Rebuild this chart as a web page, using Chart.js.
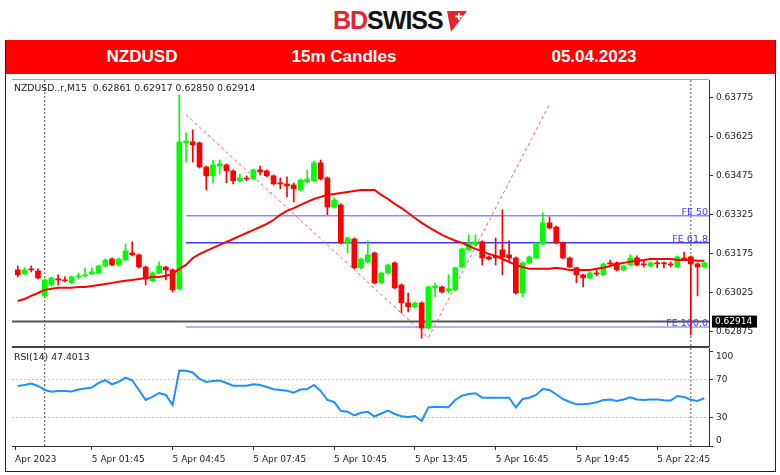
<!DOCTYPE html>
<html lang="en">
<head>
  <meta charset="UTF-8">
  <title>NZDUSD 15m Candles</title>
  <script src="https://cdn.jsdelivr.net/npm/chart.js"></script>
  <style>
    body { margin: 0; width: 780px; height: 475px; background: #fff; position: relative; overflow: hidden; font-family: "Liberation Sans", Arial, sans-serif; }
    .logo { position: absolute; left: 333px; top: 5px; height: 30px; font-size: 25px; font-weight: bold; letter-spacing: -1px; line-height: 30px; white-space: nowrap; }
    .logo .bd { color: #e3262d; }
    .logo .sw { color: #111; }
    .logo svg { position: absolute; left: 113px; top: 4px; }
    .frame { position: absolute; left: 5px; top: 40px; width: 769px; height: 430px; border: 1px solid #222; }
    .bar { position: absolute; left: 6px; top: 40px; width: 769px; height: 34px; background: #ff0000; }
    .bar span { position: absolute; top: 0; line-height: 34px; color: #fff; font-weight: bold; font-size: 17px; transform: translateX(-50%); white-space: nowrap; }
    canvas { position: absolute; left: 0; }
    #mainChart { top: 74px; }
    #rsiChart { top: 348px; }
    .note { position: absolute; left: 14px; font-family: "DejaVu Sans", sans-serif; font-size: 9.3px; color: #222; white-space: pre; }
  </style>
</head>
<body>
  <div class="frame"></div>
  <div class="logo"><span class="bd">BD</span><span class="sw">SWISS</span>
    <svg width="22" height="24" viewBox="0 0 22 24">
      <polygon points="1,2 21,2 5,23" fill="#e3262d"/>
      <rect x="12" y="4" width="2" height="7" fill="#fff"/>
      <rect x="9.5" y="6.5" width="7" height="2" fill="#fff"/>
    </svg>
  </div>
  <div class="bar">
    <span style="left:136px">NZDUSD</span>
    <span style="left:338px">15m Candles</span>
    <span style="left:588px">05.04.2023</span>
  </div>

  <canvas id="mainChart" width="780" height="274"></canvas>
  <canvas id="rsiChart" width="780" height="127"></canvas>

  <div class="note" style="top:82px">NZDUSD..r,M15  0.62861 0.62917 0.62850 0.62914</div>
  <div class="note" style="top:351px">RSI(14) 47.4013</div>

  <script>
    // bar 0 = 5 Apr 00:00, one bar per 15 minutes; the first bar shown is 4 Apr 23:00
    const firstBar = -4;

    const opens = [0.63113, 0.63097, 0.63117, 0.63109,
      0.63013, 0.63055, 0.63078, 0.63074, 0.63063, 0.63086, 0.63090, 0.63097, 0.63101, 0.63128,
      0.63155, 0.63132, 0.63151, 0.63178, 0.63171, 0.63124, 0.63071, 0.63101, 0.63124, 0.63113,
      0.63040, 0.63602, 0.63606, 0.63602, 0.63509, 0.63475, 0.63513, 0.63517, 0.63494, 0.63456,
      0.63467, 0.63463, 0.63498, 0.63494, 0.63475, 0.63448, 0.63444, 0.63440, 0.63421, 0.63452,
      0.63456, 0.63525, 0.63467, 0.63355, 0.63363, 0.63217, 0.63232, 0.63121, 0.63144, 0.63178,
      0.63063, 0.63101, 0.63140, 0.63055, 0.62986, 0.62971, 0.62986, 0.62889, 0.63044, 0.63047,
      0.63032, 0.63036, 0.63124, 0.63190, 0.63209, 0.63221, 0.63163, 0.63167, 0.63190, 0.63171,
      0.63159, 0.63024, 0.63140, 0.63159, 0.63213, 0.63294, 0.63278, 0.63217, 0.63159, 0.63121,
      0.63094, 0.63082, 0.63101, 0.63094, 0.63140, 0.63140, 0.63113, 0.63132, 0.63159, 0.63136,
      0.63128, 0.63140, 0.63140, 0.63136, 0.63124, 0.63159, 0.63163, 0.63136, 0.63124];

    const highs = [0.63128, 0.63121, 0.63128, 0.63117,
      0.63078, 0.63086, 0.63094, 0.63086, 0.63090, 0.63101, 0.63121, 0.63121, 0.63132, 0.63155,
      0.63159, 0.63159, 0.63213, 0.63221, 0.63174, 0.63128, 0.63105, 0.63144, 0.63128, 0.63117,
      0.63787, 0.63640, 0.63652, 0.63606, 0.63513, 0.63536, 0.63536, 0.63521, 0.63498, 0.63482,
      0.63475, 0.63502, 0.63513, 0.63498, 0.63479, 0.63467, 0.63471, 0.63448, 0.63463, 0.63498,
      0.63532, 0.63536, 0.63471, 0.63390, 0.63367, 0.63240, 0.63236, 0.63159, 0.63225, 0.63182,
      0.63105, 0.63136, 0.63144, 0.63059, 0.63024, 0.62990, 0.62990, 0.63051, 0.63063, 0.63051,
      0.63094, 0.63124, 0.63198, 0.63248, 0.63248, 0.63225, 0.63167, 0.63236, 0.63344, 0.63225,
      0.63163, 0.63144, 0.63167, 0.63217, 0.63333, 0.63317, 0.63282, 0.63221, 0.63163, 0.63124,
      0.63097, 0.63105, 0.63113, 0.63140, 0.63151, 0.63144, 0.63132, 0.63171, 0.63167, 0.63151,
      0.63144, 0.63148, 0.63144, 0.63144, 0.63167, 0.63182, 0.63167, 0.63140, 0.63144];

    const lows = [0.63086, 0.63094, 0.63105, 0.63078,
      0.63005, 0.63051, 0.63055, 0.63067, 0.63059, 0.63078, 0.63086, 0.63094, 0.63097, 0.63124,
      0.63128, 0.63128, 0.63148, 0.63167, 0.63121, 0.63055, 0.63067, 0.63097, 0.63074, 0.63028,
      0.63036, 0.63528, 0.63528, 0.63505, 0.63421, 0.63448, 0.63482, 0.63448, 0.63444, 0.63452,
      0.63456, 0.63459, 0.63479, 0.63471, 0.63440, 0.63425, 0.63394, 0.63375, 0.63417, 0.63448,
      0.63452, 0.63459, 0.63325, 0.63351, 0.63213, 0.63178, 0.63117, 0.63117, 0.63140, 0.63059,
      0.63059, 0.63097, 0.63040, 0.62947, 0.62951, 0.62967, 0.62850, 0.62885, 0.63009, 0.63024,
      0.63024, 0.63032, 0.63121, 0.63186, 0.63205, 0.63132, 0.63151, 0.63132, 0.63094, 0.63140,
      0.63020, 0.63009, 0.63136, 0.63155, 0.63209, 0.63271, 0.63213, 0.63155, 0.63121, 0.63063,
      0.63047, 0.63078, 0.63090, 0.63090, 0.63128, 0.63109, 0.63109, 0.63128, 0.63128, 0.63124,
      0.63124, 0.63121, 0.63121, 0.63124, 0.63121, 0.63151, 0.62862, 0.63013, 0.63121];

    const closes = [0.63094, 0.63113, 0.63113, 0.63082,
      0.63074, 0.63082, 0.63074, 0.63071, 0.63086, 0.63090, 0.63094, 0.63105, 0.63128, 0.63151,
      0.63132, 0.63155, 0.63186, 0.63171, 0.63124, 0.63078, 0.63101, 0.63128, 0.63113, 0.63036,
      0.63606, 0.63609, 0.63594, 0.63509, 0.63475, 0.63517, 0.63521, 0.63494, 0.63456, 0.63467,
      0.63463, 0.63498, 0.63490, 0.63475, 0.63444, 0.63444, 0.63436, 0.63425, 0.63459, 0.63463,
      0.63525, 0.63463, 0.63355, 0.63382, 0.63217, 0.63236, 0.63121, 0.63155, 0.63171, 0.63063,
      0.63101, 0.63132, 0.63044, 0.62986, 0.62971, 0.62986, 0.62889, 0.63047, 0.63051, 0.63028,
      0.63040, 0.63121, 0.63194, 0.63217, 0.63221, 0.63159, 0.63155, 0.63159, 0.63163, 0.63159,
      0.63024, 0.63140, 0.63163, 0.63213, 0.63294, 0.63274, 0.63217, 0.63159, 0.63124, 0.63094,
      0.63082, 0.63101, 0.63097, 0.63136, 0.63136, 0.63113, 0.63128, 0.63159, 0.63132, 0.63132,
      0.63140, 0.63136, 0.63136, 0.63132, 0.63163, 0.63155, 0.63136, 0.63124, 0.63140];

    // red moving average drawn over the candles
    const maLine = [0.62993, 0.63001, 0.63013, 0.63024,
      0.63036, 0.63040, 0.63044, 0.63044, 0.63044, 0.63047, 0.63047, 0.63051, 0.63055, 0.63059,
      0.63063, 0.63067, 0.63071, 0.63074, 0.63078, 0.63082, 0.63086, 0.63086, 0.63090, 0.63097,
      0.63117, 0.63132, 0.63159, 0.63174, 0.63186, 0.63198, 0.63209, 0.63221, 0.63232, 0.63244,
      0.63255, 0.63267, 0.63278, 0.63290, 0.63305, 0.63325, 0.63340, 0.63351, 0.63363, 0.63375,
      0.63386, 0.63394, 0.63402, 0.63405, 0.63409, 0.63413, 0.63417, 0.63421, 0.63421, 0.63421,
      0.63402, 0.63386, 0.63367, 0.63351, 0.63332, 0.63313, 0.63294, 0.63278, 0.63263, 0.63248,
      0.63236, 0.63225, 0.63217, 0.63205, 0.63194, 0.63186, 0.63174, 0.63167, 0.63155, 0.63144,
      0.63132, 0.63124, 0.63117, 0.63117, 0.63117, 0.63117, 0.63121, 0.63117, 0.63113, 0.63113,
      0.63113, 0.63113, 0.63117, 0.63121, 0.63128, 0.63136, 0.63140, 0.63144, 0.63148, 0.63151,
      0.63155, 0.63155, 0.63155, 0.63155, 0.63151, 0.63151, 0.63151, 0.63148, 0.63148];

    const rsiValues = [63.5, 64.6, 66.1, 63.5,
      59.3, 57.5, 58.2, 58.2, 57.7, 59.8, 60.8, 61.9, 66.7, 69.8,
      65.3, 68.0, 72.3, 69.3, 59.3, 48.7, 51.9, 56.1, 54.0, 43.4,
      79.9, 79.7, 77.8, 70.9, 67.7, 68.8, 69.3, 66.7, 63.8, 63.8,
      63.8, 65.3, 64.6, 62.4, 60.0, 59.3, 58.5, 56.4, 59.8, 60.3,
      64.6, 58.2, 48.7, 46.6, 37.0, 36.3, 32.3, 35.1, 36.3, 31.2,
      34.4, 37.4, 33.9, 31.5, 30.7, 31.7, 26.5, 40.7, 41.6, 41.3,
      41.0, 48.7, 53.2, 55.0, 55.8, 51.1, 51.1, 51.1, 51.1, 51.1,
      41.0, 49.7, 51.1, 54.0, 60.3, 59.3, 54.5, 49.7, 46.6, 44.1,
      44.1, 45.0, 46.2, 48.7, 49.2, 47.6, 49.2, 51.5, 49.2, 48.7,
      49.2, 49.2, 48.4, 48.1, 52.9, 51.9, 48.9, 47.6, 50.5];

    const priceTicks = [0.62875, 0.63025, 0.63175, 0.63325, 0.63475, 0.63625, 0.63775];
    const rsiTicks = [0, 30, 70, 100];
    const timeTicks = [-4.4, 7, 19, 31, 43, 55, 67, 79, 91];
    const timeLabels = ["Apr 2023", "5 Apr 01:45", "5 Apr 04:45", "5 Apr 07:45", "5 Apr 10:45",
      "5 Apr 13:45", "5 Apr 16:45", "5 Apr 19:45", "5 Apr 22:45"];

    const feNames = ["FE 50", "FE 61.8", "FE 100.0"];
    const feLevels = [0.63321, 0.63217, 0.62893];
    const feColors = ["#8c8cff", "#3c3cff", "#9a9aff"];
    const feStart = 21;
    const expansionBars = [21, 57, 75.1];
    const expansionPrices = [0.63710, 0.62851, 0.63756];
    const bidPrice = 0.62914;
    const daySeparators = [0, 96];

    const xMin = -4.86, xMax = 98.7;
    const yMin = 0.62820, yMax = 0.63844;
    const rsiMax = 103.7;

    const tickFont = { family: "DejaVu Sans", size: 9 };
    const bars = opens.map((o, k) => k + firstBar);
    const candleColor = ctx => closes[ctx.dataIndex] >= opens[ctx.dataIndex] ? "#00ff00" : "#ff0000";

    function separatorSets(lo, hi) {
      return daySeparators.map(s => ({
        type: "line", data: [{ x: s, y: lo }, { x: s, y: hi }],
        borderColor: "#555", borderWidth: 1, borderDash: [2, 2], pointRadius: 0, order: 10
      }));
    }

    const mainDecor = {
      id: "mainDecor",
      afterDraw(chart) {
        const { ctx, chartArea: a, scales: { y } } = chart;
        ctx.save();
        ctx.strokeStyle = "#a8a8a8";
        ctx.lineWidth = 1;
        ctx.beginPath(); ctx.moveTo(a.left, a.top - 0.5); ctx.lineTo(a.right, a.top - 0.5); ctx.stroke();
        ctx.strokeStyle = "#444";
        ctx.lineWidth = 2;
        ctx.beginPath(); ctx.moveTo(a.left, a.bottom + 1); ctx.lineTo(a.right, a.bottom + 1); ctx.stroke();

        ctx.font = '9.5px "DejaVu Sans"';
        ctx.fillStyle = "#3a3aff";
        ctx.textAlign = "right";
        ctx.textBaseline = "bottom";
        feLevels.forEach((lv, k) => ctx.fillText(feNames[k], a.right - 1, y.getPixelForValue(lv) + 1));

        const py = y.getPixelForValue(bidPrice);
        ctx.fillStyle = "#000";
        ctx.fillRect(a.right + 3, py - 6, 45, 12);
        ctx.fillStyle = "#fff";
        ctx.font = '9px "DejaVu Sans"';
        ctx.textAlign = "left";
        ctx.textBaseline = "middle";
        ctx.fillText(bidPrice.toFixed(5), a.right + 6, py);
        ctx.restore();
      }
    };

    new Chart(document.getElementById("mainChart"), {
      type: "bar",
      data: {
        datasets: [
          ...separatorSets(yMin, yMax),
          {
            type: "line", data: [{ x: xMin, y: bidPrice }, { x: xMax, y: bidPrice }],
            borderColor: "#555", borderWidth: 2, pointRadius: 0, order: 7
          },
          ...feLevels.map((lv, k) => ({
            type: "line", data: [{ x: feStart, y: lv }, { x: xMax, y: lv }],
            borderColor: feColors[k], borderWidth: 1.5, pointRadius: 0, order: 6
          })),
          {
            data: bars.map((x, k) => ({ x, y: [lows[k], highs[k]] })),
            backgroundColor: candleColor, barThickness: 1, grouped: false, order: 5
          },
          {
            data: bars.map((x, k) => ({ x, y: [opens[k], closes[k]] })),
            backgroundColor: candleColor, barThickness: 5, minBarLength: 1, grouped: false, order: 4
          },
          {
            type: "line", data: expansionBars.map((x, k) => ({ x, y: expansionPrices[k] })),
            borderColor: "#ff5c5c", borderWidth: 1, borderDash: [3, 3], pointRadius: 0, order: 3
          },
          {
            type: "line", data: bars.map((x, k) => ({ x, y: maLine[k] })),
            borderColor: "#ff0000", borderWidth: 2, pointRadius: 0, tension: 0, order: 2
          }
        ]
      },
      options: {
        responsive: false,
        animation: false,
        events: [],
        layout: { padding: { left: 12, right: 0, top: 6, bottom: 2 }, autoPadding: false },
        plugins: { legend: { display: false }, tooltip: { enabled: false } },
        scales: {
          x: { type: "linear", min: xMin, max: xMax, offset: false, display: false },
          y: {
            position: "right", min: yMin, max: yMax,
            afterBuildTicks: s => { s.ticks = priceTicks.map(v => ({ value: v })); },
            afterFit: s => { s.width = 71; s.paddingTop = 0; s.paddingBottom = 0; },
            ticks: { color: "#222", font: tickFont, padding: 3, callback: v => v.toFixed(5) },
            grid: { drawOnChartArea: false, tickLength: 4, color: "#333" },
            border: { color: "#333", width: 1 }
          }
        }
      },
      plugins: [mainDecor]
    });

    new Chart(document.getElementById("rsiChart"), {
      type: "line",
      data: {
        datasets: [
          ...separatorSets(0, rsiMax),
          {
            data: bars.map((x, k) => ({ x, y: rsiValues[k] })),
            borderColor: "#1e90ff", borderWidth: 2, pointRadius: 0, tension: 0, order: 1
          }
        ]
      },
      options: {
        responsive: false,
        animation: false,
        events: [],
        layout: { padding: { left: 12, right: 0, top: 0, bottom: 7 }, autoPadding: false },
        plugins: { legend: { display: false }, tooltip: { enabled: false } },
        scales: {
          x: {
            type: "linear", min: xMin, max: xMax, position: "bottom",
            afterBuildTicks: s => { s.ticks = timeTicks.map(v => ({ value: v })); },
            afterFit: s => { s.height = 22; s.paddingLeft = 0; s.paddingRight = 0; },
            ticks: {
              color: "#222", font: tickFont, padding: 4, align: "start",
              autoSkip: false, maxRotation: 0, callback: (v, i) => timeLabels[i]
            },
            grid: { drawOnChartArea: false, tickLength: 4, color: "#333" },
            border: { color: "#333", width: 1 }
          },
          y: {
            position: "right", min: 0, max: rsiMax,
            afterBuildTicks: s => { s.ticks = rsiTicks.map(v => ({ value: v })); },
            afterFit: s => { s.width = 71; s.paddingTop = 0; s.paddingBottom = 0; },
            ticks: {
              color: "#222", font: tickFont, padding: 3,
              callback: v => v === 100 ? ["", "100"] : v === 0 ? ["0", ""] : String(v)
            },
            grid: {
              tickLength: 4, tickColor: "#333",
              color: ctx => (ctx.tick && (ctx.tick.value === 30 || ctx.tick.value === 70)) ? "#c4c4c4" : "rgba(0,0,0,0)"
            },
            border: { color: "#333", width: 1, dash: [2, 2] }
          }
        }
      }
    });
  </script>
</body>
</html>
